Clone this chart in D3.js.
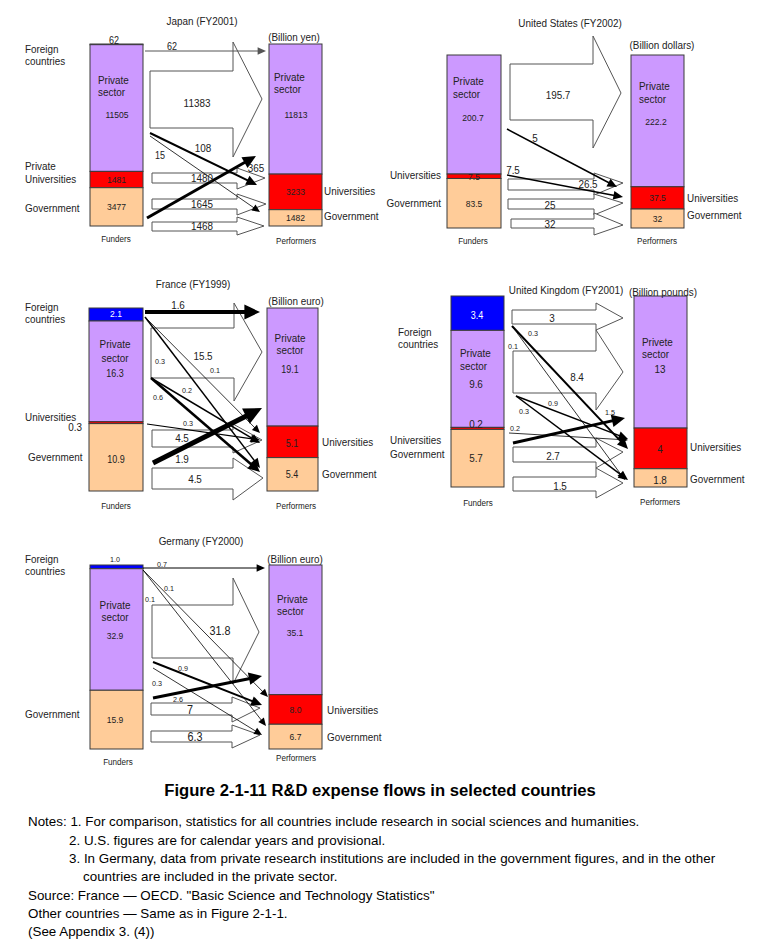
<!DOCTYPE html>
<html><head><meta charset="utf-8">
<script src="https://cdn.jsdelivr.net/npm/d3@7"></script>
<style>body{margin:0;background:#fff}svg{display:block}</style>
</head><body>
<script>
// ---------- DATA ----------
const funderCats = ["Foreign countries", "Private sector", "Universities", "Government"];
const performerCats = ["Private sector", "Universities", "Government"];

const japanFunders = [62, 11505, 1481, 3477];
const japanPerformers = [11813, 3233, 1482];
const japanFlows = [
  ["Foreign countries","Private sector",62], ["Private sector","Private sector",11383],
  ["Private sector","Universities",108], ["Private sector","Government",15],
  ["Universities","Universities",1480], ["Government","Private sector",365],
  ["Government","Universities",1645], ["Government","Government",1468]];

const usFunders = [0, 200.7, 7.5, 83.5];
const usPerformers = [222.2, 37.5, 32];
const usFlows = [
  ["Private sector","Private sector",195.7], ["Private sector","Universities",5],
  ["Universities","Universities",7.5], ["Government","Private sector",26.5],
  ["Government","Universities",25], ["Government","Government",32]];

const franceFunders = [2.1, 16.3, 0.3, 10.9];
const francePerformers = [19.1, 5.1, 5.4];
const franceFlows = [
  ["Foreign countries","Private sector",1.6], ["Private sector","Private sector",15.5],
  ["Foreign countries","Universities",0.1], ["Foreign countries","Government",0.3],
  ["Private sector","Universities",0.2], ["Private sector","Government",0.6],
  ["Universities","Universities",0.3], ["Government","Private sector",1.9],
  ["Government","Universities",4.5], ["Government","Government",4.5]];

const ukFunders = [3.4, 9.6, 0.2, 5.7];
const ukPerformers = [13, 4, 1.8];
const ukFlows = [
  ["Foreign countries","Private sector",3], ["Foreign countries","Universities",0.3],
  ["Foreign countries","Government",0.1], ["Private sector","Private sector",8.4],
  ["Private sector","Universities",0.9], ["Private sector","Government",0.3],
  ["Universities","Universities",0.2], ["Government","Private sector",1.5],
  ["Government","Universities",2.7], ["Government","Government",1.5]];

const germanyFunders = [1.0, 32.9, 0, 15.9];
const germanyPerformers = [35.1, 8.0, 6.7];
const germanyFlows = [
  ["Foreign countries","Private sector",0.7], ["Foreign countries","Universities",0.1],
  ["Foreign countries","Government",0.1], ["Private sector","Private sector",31.8],
  ["Private sector","Universities",0.9], ["Private sector","Government",0.3],
  ["Government","Private sector",2.6], ["Government","Universities",7],
  ["Government","Government",6.3]];

const figureTitle = "Figure 2-1-11  R&D expense flows in selected countries";
const notes = [
  "Notes: 1. For comparison, statistics for all countries include research in social sciences and humanities.",
  "2. U.S. figures are for calendar years and provisional.",
  "3. In Germany, data from private research institutions are included in the government figures, and in the other",
  "countries are included in the private sector.",
  "Source: France \u2015 OECD. \"Basic Science and Technology Statistics\"",
  "Other countries \u2015 Same as in Figure 2-1-1.",
  "(See Appendix 3. (4))"];

// ---------- STYLE / LAYOUT ----------
const catColor = {"Foreign countries":"#0000ff","Private sector":"#cc99ff","Universities":"#ff0000","Government":"#ffcc99"};
const SX = 0.9; // horizontal text condensation

const panels = [
 {funders: japanFunders, performers: japanPerformers, flows: japanFlows,
  fx:90, fw:53, px:269, pw:53, top:44, bottom:226,
  fVal:[[114,40,"middle",10],[117,115],null,null], pVal:[[296,115],null,null],
  texts:[["Japan (FY2001)",202,21,"middle"],["(Billion yen)",294,37,"middle"],
   ["Foreign",25,49],["countries",25,61],["Private",25,166],["Universities",25,179],["Government",25,208],
   ["Private",98,80],["sector",98,92],["Private",274,77],["sector",274,89],
   ["Universities",324,191],["Government",324,216],
   ["Funders",116,239,"middle",9],["Performers",296,241,"middle",9]],
  geo:[
   {t:"line",p:[145,51,266,51],w:1,c:"#555",lab:[172,46,10]},
   {t:"block",b:[150,233,71,128,42,157,262,99],lab:[197,103,11]},
   {t:"line",p:[150,133,257,185],w:2,lab:[203,148,11]},
   {t:"line",p:[150,136,260,212],w:0.8,lab:[160,155,10]},
   {t:"block",b:[152,237,173,183,168,189,265,178],lab:[202,178,11]},
   {t:"line",p:[147,218,256,156],w:3,lab:[256,168,11]},
   {t:"block",b:[152,237,199,209,194,215,266,204],lab:[202,204,11]},
   {t:"block",b:[152,237,222,231,217,235,264,226],lab:[202,226,11]}]},
 {funders: usFunders, performers: usPerformers, flows: usFlows,
  fx:447, fw:54, px:631, pw:53, top:55, bottom:228,
  fVal:[null,[473,118],null,null], pVal:[[656,122],null,null],
  texts:[["United States (FY2002)",570,23,"middle"],["(Billion dollars)",662,45,"middle"],
   ["Universities",441,175,"end"],["Government",441,203,"end"],
   ["Private",453,81],["sector",453,94],["Private",639,86],["sector",639,99],
   ["Universities",687,198],["Government",687,215],
   ["Funders",473,241,"middle",9],["Performers",657,241,"middle",9]],
  geo:[
   {t:"block",b:[510,593,64,120,36,148,621,93],lab:[558,95,11]},
   {t:"line",p:[507,129,617,187],w:1.5,lab:[535,138,11]},
   {t:"line",p:[507,175,623,197],w:1.5,lab:[513,170,11]},
   {t:"block",b:[508,594,179,190,173,195,623,183],lab:[588,184,11]},
   {t:"block",b:[508,594,199,209,194,215,623,203],lab:[550,205,11]},
   {t:"block",b:[511,594,219,228,213,235,623,225],lab:[550,224,11]}]},
 {funders: franceFunders, performers: francePerformers, flows: franceFlows,
  fx:89, fw:54, px:267, pw:51, top:308, bottom:491,
  fVal:[[116,314,"middle",9.5,"#fff"],[115,373,"middle",10],[82,427,"end",11],[116,459,"middle",10]],
  pVal:[[290,369,"middle",10],[292,443,"middle",10],[292,474,"middle",10]],
  texts:[["France (FY1999)",193,284,"middle"],["(Billion euro)",296,301,"middle"],
   ["Foreign",25,307],["countries",25,319],["Universities",25,417],["Gevernment",28,457],
   ["Private",115,344,"middle"],["sector",115,358,"middle"],["Private",290,338,"middle"],["sector",290,350,"middle"],
   ["Universities",322,442],["Government",322,474],
   ["Funders",116,506,"middle",9],["Performers",296,506,"middle",9]],
  geo:[
   {t:"line",p:[145,312,260,312],w:4,lab:[178,305,11]},
   {t:"block",b:[151,234,328,378,303,401,262,352],lab:[203,356,11]},
   {t:"line",p:[145,317,260,433],w:0.8,lab:[215,370,8]},
   {t:"line",p:[145,317,260,468],w:1.5,lab:[160,361,8]},
   {t:"line",p:[151,378,260,443],w:1.5,lab:[187,390,8]},
   {t:"line",p:[151,378,260,472],w:2.5,lab:[158,397,8]},
   {t:"line",p:[147,424,260,440],w:1.2,lab:[188,423,8]},
   {t:"line",p:[153,463,262,408],w:5,lab:[182,459,11]},
   {t:"block",b:[152,233,430,447,424,453,262,440],lab:[182,438,11]},
   {t:"block",b:[152,233,468,489,458,500,263,478],lab:[195,479,11]}]},
 {funders: ukFunders, performers: ukPerformers, flows: ukFlows,
  fx:451, fw:53, px:634, pw:53, top:296, bottom:487,
  fVal:[[477,315,"middle",10,"#fff"],[476,384,"middle",11],[476,424,"middle",11],[476,458,"middle",11]],
  pVal:[[660,369,"middle",11],[660,449,"middle",11],[660,480,"middle",11]],
  texts:[["United Kingdom (FY2001)",566,290,"middle"],["(Billion pounds)",663,292,"middle"],
   ["Foreign",398,332],["countries",398,344],["Universities",390,440],["Government",390,454],
   ["Private",460,353],["sector",460,366],["Privete",642,342],["sector",642,354],
   ["Universities",690,447],["Government",690,479],
   ["Funders",478,503,"middle",9],["Performers",660,502,"middle",9]],
  geo:[
   {t:"block",b:[512,596,310,324,303,330,623,318],lab:[552,318,11]},
   {t:"line",p:[512,326,628,449],w:2,lab:[533,333,8]},
   {t:"line",p:[512,326,625,480],w:0.8,lab:[513,346,8]},
   {t:"block",b:[513,596,351,393,330,410,623,372],lab:[577,377,11]},
   {t:"line",p:[516,396,628,439],w:1.5,lab:[553,403,8]},
   {t:"line",p:[516,396,628,480],w:1.5,lab:[524,411,8]},
   {t:"line",p:[509,433,628,440],w:0.8,lab:[515,428,8]},
   {t:"line",p:[513,443,625,418],w:3,lab:[610,412,8]},
   {t:"block",b:[513,596,447,462,438,468,623,452],lab:[553,456,11]},
   {t:"block",b:[513,596,477,491,468,498,623,483],lab:[560,486,11]}]},
 {funders: germanyFunders, performers: germanyPerformers, flows: germanyFlows,
  fx:90, fw:53, px:269, pw:53, top:565, bottom:749,
  fVal:[[115,559,"middle",8],[115,636],null,[115,720]], pVal:[[295,633],null,null],
  texts:[["Germany (FY2000)",201,541,"middle"],["(Billion euro)",295,559,"middle"],
   ["Foreign",25,559],["countries",25,571],["Government",25,714],
   ["Private",115,605,"middle"],["sector",115,617,"middle"],["Private",277,599],["sector",277,611],
   ["Universities",327,710],["Government",327,737],
   ["Funders",118,762,"middle",9],["Performers",296,758,"middle",9]],
  geo:[
   {t:"line",p:[143,568,265,568],w:1,lab:[162,564,8]},
   {t:"line",p:[143,570,268,697],w:0.8,lab:[169,588,8]},
   {t:"line",p:[143,570,266,726],w:0.8,lab:[150,599,8]},
   {t:"block",b:[152,233,605,658,578,684,259,632],lab:[220,631,12]},
   {t:"line",p:[153,662,262,705],w:2,lab:[183,668,8]},
   {t:"line",p:[153,668,262,735],w:0.8,lab:[157,683,8]},
   {t:"line",p:[153,698,262,676],w:3,lab:[178,699,8]},
   {t:"block",b:[151,232,703,715,697,722,260,708],lab:[190,710,12]},
   {t:"block",b:[151,232,731,742,725,748,260,735],lab:[195,737,12]}]}
];

// ---------- DRAW ----------
const W = 780, H = 943;
const svg = d3.select("body").append("svg").attr("width", W).attr("height", H)
  .style("font-family", "'Liberation Sans', Arial, sans-serif");

function txt(g, s, x, y, anchor="start", size=11, color="#222", weight="normal", sx=SX) {
  return g.append("text")
    .attr("transform", `translate(${x},${y}) scale(${sx},1)`)
    .attr("dy", "0.35em").attr("text-anchor", anchor)
    .attr("font-size", size).attr("font-weight", weight).attr("fill", color).text(s);
}

function drawBar(g, cats, values, x, w, top, bottom, valPos) {
  const y = d3.scaleLinear().domain([0, d3.sum(values)]).range([top, bottom]);
  let cum = 0;
  const segs = values.map((v, i) => { const s = {cat: cats[i], v, y0: y(cum), y1: y(cum + v), i}; cum += v; return s; });
  g.selectAll(null).data(segs.filter(s => s.v > 0)).join("rect")
    .attr("x", x).attr("width", w).attr("y", d => d.y0).attr("height", d => Math.max(0.8, d.y1 - d.y0))
    .attr("fill", d => catColor[d.cat]).attr("stroke", "#3a3a3a").attr("stroke-width", 1);
  segs.forEach(s => {
    if (s.v <= 0) return;
    const p = valPos[s.i];
    const lx = p ? p[0] : x + w / 2, ly = p ? p[1] : (s.y0 + s.y1) / 2;
    const label = (s.v % 1 === 0 && s.v < 10 && values.some(v => v % 1 !== 0) && s.v !== 4) ? s.v.toFixed(1) : String(s.v);
    txt(g, label, lx, ly, p && p[2] ? p[2] : "middle", p && p[3] ? p[3] : 9.5, p && p[4] ? p[4] : "#222");
  });
}

function arrowHead(g, x0, y0, x1, y1, w, color) {
  const a = Math.atan2(y1 - y0, x1 - x0);
  const L = Math.max(7, 2.4 * w + 6), hw = Math.max(3, 1.2 * w + 2.6);
  const bx = x1 - L * Math.cos(a), by = y1 - L * Math.sin(a);
  g.append("line").attr("x1", x0).attr("y1", y0).attr("x2", bx + Math.cos(a)).attr("y2", by + Math.sin(a))
    .attr("stroke", color).attr("stroke-width", w);
  g.append("path").attr("d", d3.line()([[x1, y1], [bx - hw * Math.sin(a), by + hw * Math.cos(a)], [bx + hw * Math.sin(a), by - hw * Math.cos(a)]]) + "Z")
    .attr("fill", color);
}

panels.forEach(P => {
  const g = svg.append("g");
  drawBar(g, funderCats, P.funders, P.fx, P.fw, P.top, P.bottom, P.fVal);
  drawBar(g, performerCats, P.performers, P.px, P.pw, P.top, P.bottom, P.pVal);
  P.texts.forEach(t => txt(g, t[0], t[1], t[2], t[3] || "start", t[4] || 11));
  const flows = P.flows.map((f, i) => ({from: f[0], to: f[1], value: f[2], geo: P.geo[i]}));
  flows.filter(f => f.geo.t === "block").forEach(f => {
    const [x0, x1, y0, y1, hy0, hy1, tx, ty] = f.geo.b;
    g.append("path").attr("d", d3.line()([[x0, y0], [x1, y0], [x1, hy0], [tx, ty], [x1, hy1], [x1, y1], [x0, y1]]) + "Z")
      .attr("fill", "#fff").attr("stroke", "#555").attr("stroke-width", 1);
  });
  flows.filter(f => f.geo.t === "line").forEach(f => {
    const [x0, y0, x1, y1] = f.geo.p;
    arrowHead(g, x0, y0, x1, y1, f.geo.w, f.geo.c || "#000");
  });
  flows.forEach(f => {
    const [lx, ly, ls] = f.geo.lab;
    txt(g, String(f.value), lx, ly, "middle", ls, "#222");
  });
});

// bottom texts
txt(svg, figureTitle, 380, 790, "middle", 16, "#000", "bold", 1.04);
const noteX = [28, 69, 69, 83, 28, 28, 28];
const noteY = [821, 840, 858, 876, 895, 913, 931];
notes.forEach((n, i) => txt(svg, n, noteX[i], noteY[i], "start", 13, "#000", "normal", 1.03));
</script>
</body></html>
